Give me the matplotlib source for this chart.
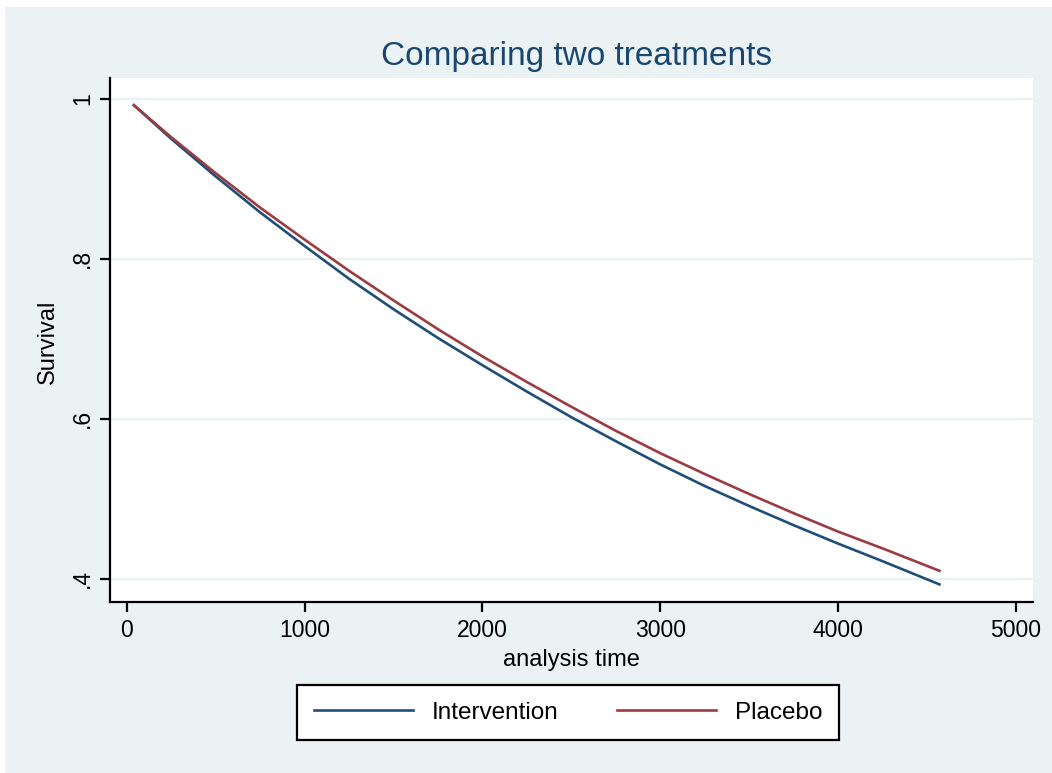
import matplotlib
matplotlib.use("Agg")
import matplotlib.pyplot as plt
from matplotlib.patches import Rectangle

# survival curves
times = [40, 250, 500, 750, 1000, 1250, 1500, 1750, 2000, 2250, 2500, 2750,
         3000, 3250, 3500, 3750, 4000, 4250, 4570]
intervention = [0.992, 0.950, 0.903, 0.858, 0.816, 0.775, 0.737, 0.701, 0.667,
                0.634, 0.602, 0.572, 0.543, 0.516, 0.491, 0.467, 0.444, 0.422,
                0.393]
placebo = [0.992, 0.952, 0.907, 0.864, 0.824, 0.785, 0.748, 0.712, 0.678,
           0.646, 0.615, 0.585, 0.557, 0.531, 0.506, 0.482, 0.459, 0.438,
           0.410]

xticks = [0, 1000, 2000, 3000, 4000, 5000]
yticks = [0.4, 0.6, 0.8, 1.0]
ylabels = [".4", ".6", ".8", "1"]

plt.rcParams["font.family"] = ["Liberation Sans", "DejaVu Sans"]

W, H = 1052, 773
fig = plt.figure(figsize=(W / 100, H / 100), dpi=100, facecolor="white")
bg = "#EAF2F3"
fig.patches.append(Rectangle((5 / W, 0), 1 - 5 / W, 1 - 7 / H,
                             transform=fig.transFigure, facecolor=bg,
                             edgecolor="none", zorder=-10))

ax = fig.add_axes([109.5 / W, 1 - 602 / H, (1033 - 109.5) / W, (602 - 78) / H])
ax.set_facecolor("white")

navy = "#1F4E78"
maroon = "#9A3C42"
ax.plot(times, intervention, color=navy, lw=1.9, label="Intervention", zorder=3)
ax.plot(times, placebo, color=maroon, lw=1.9, label="Placebo", zorder=3)

ax.set_xlim(-97, 5096)
ax.set_ylim(0.371, 1.026)
ax.set_xticks(xticks)
ax.set_yticks(yticks)
ax.set_yticklabels(ylabels, rotation=90, va="center")
ax.grid(axis="y", color=bg, lw=1.6)
ax.set_axisbelow(True)

for s in ["top", "right"]:
    ax.spines[s].set_visible(False)
for s in ["left", "bottom"]:
    ax.spines[s].set_linewidth(1.6)
    ax.spines[s].set_color("black")

ax.tick_params(axis="both", length=7, width=1.6, labelsize=16.5, pad=5,
               colors="black")
ax.tick_params(axis="y", pad=4)

fig.text(48 / W, 1 - 342 / H, "Survival", rotation=90, ha="center",
         va="center", fontsize=17)
fig.text(571 / W, 1 - 660 / H, "analysis time", ha="center", va="center",
         fontsize=17)
fig.text(577 / W, 1 - 57 / H, "Comparing two treatments", ha="center",
         va="center", fontsize=24, color="#1A476F")

leg = fig.legend(loc="center", bbox_to_anchor=(568 / W, 1 - 712.5 / H),
                 ncol=2, fontsize=17.5, frameon=True, fancybox=False,
                 handlelength=4.1, handletextpad=0.75, columnspacing=2.4,
                 borderpad=0.68, borderaxespad=0)
frame = leg.get_frame()
frame.set_edgecolor("black")
frame.set_linewidth(1.6)
frame.set_facecolor("white")
frame.set_alpha(1)

fig.savefig("out.png", dpi=100, facecolor="white")
